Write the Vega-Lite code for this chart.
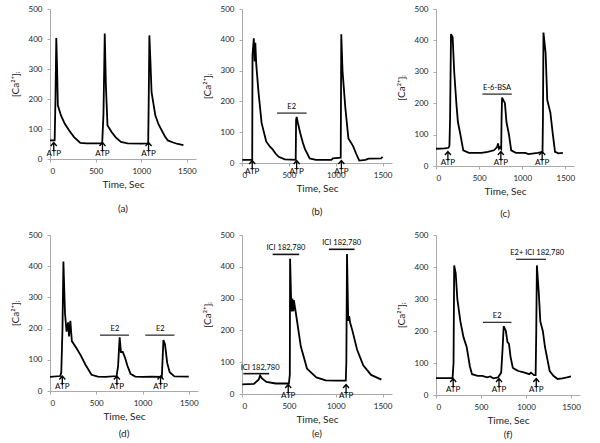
{
"$schema": "https://vega.github.io/schema/vega-lite/v6.json",
"padding": {"left": 10, "top": 5, "right": 0, "bottom": 0},
"datasets": {
"trace": [
{"p":"a","t":0,"v":62},{"p":"a","t":51,"v":62},{"p":"a","t":60,"v":200},{"p":"a","t":69,"v":403},{"p":"a","t":78,"v":300},{"p":"a","t":86,"v":179},{"p":"a","t":120,"v":145},{"p":"a","t":161,"v":118},{"p":"a","t":210,"v":95},{"p":"a","t":264,"v":73},{"p":"a","t":332,"v":54},{"p":"a","t":400,"v":52},{"p":"a","t":500,"v":52},{"p":"a","t":572,"v":52},{"p":"a","t":586,"v":150},{"p":"a","t":600,"v":418},{"p":"a","t":612,"v":250},{"p":"a","t":630,"v":112},{"p":"a","t":675,"v":90},{"p":"a","t":720,"v":72},{"p":"a","t":778,"v":57},{"p":"a","t":850,"v":52},{"p":"a","t":1000,"v":51},{"p":"a","t":1076,"v":52},{"p":"a","t":1082,"v":200},{"p":"a","t":1089,"v":412},{"p":"a","t":1100,"v":330},{"p":"a","t":1113,"v":223},{"p":"a","t":1154,"v":146},{"p":"a","t":1190,"v":115},{"p":"a","t":1223,"v":96},{"p":"a","t":1260,"v":75},{"p":"a","t":1291,"v":62},{"p":"a","t":1350,"v":55},{"p":"a","t":1400,"v":50},{"p":"a","t":1462,"v":46},
{"p":"b","t":3,"v":10},{"p":"b","t":109,"v":10},{"p":"b","t":112,"v":350},{"p":"b","t":126,"v":405},{"p":"b","t":135,"v":330},{"p":"b","t":142,"v":390},{"p":"b","t":152,"v":320},{"p":"b","t":176,"v":230},{"p":"b","t":209,"v":130},{"p":"b","t":258,"v":70},{"p":"b","t":300,"v":52},{"p":"b","t":325,"v":45},{"p":"b","t":360,"v":30},{"p":"b","t":391,"v":20},{"p":"b","t":457,"v":12},{"p":"b","t":573,"v":10},{"p":"b","t":577,"v":140},{"p":"b","t":583,"v":150},{"p":"b","t":596,"v":130},{"p":"b","t":623,"v":95},{"p":"b","t":650,"v":65},{"p":"b","t":672,"v":45},{"p":"b","t":722,"v":15},{"p":"b","t":788,"v":10},{"p":"b","t":953,"v":10},{"p":"b","t":970,"v":15},{"p":"b","t":1053,"v":17},{"p":"b","t":1059,"v":418},{"p":"b","t":1072,"v":300},{"p":"b","t":1102,"v":180},{"p":"b","t":1135,"v":80},{"p":"b","t":1185,"v":55},{"p":"b","t":1218,"v":30},{"p":"b","t":1251,"v":8},{"p":"b","t":1317,"v":10},{"p":"b","t":1350,"v":14},{"p":"b","t":1483,"v":15},{"p":"b","t":1500,"v":20},
{"p":"c","t":0,"v":55},{"p":"c","t":100,"v":56},{"p":"c","t":145,"v":58},{"p":"c","t":156,"v":65},{"p":"c","t":163,"v":150},{"p":"c","t":174,"v":420},{"p":"c","t":193,"v":410},{"p":"c","t":211,"v":300},{"p":"c","t":236,"v":200},{"p":"c","t":254,"v":140},{"p":"c","t":283,"v":100},{"p":"c","t":316,"v":50},{"p":"c","t":381,"v":42},{"p":"c","t":527,"v":42},{"p":"c","t":600,"v":45},{"p":"c","t":672,"v":50},{"p":"c","t":708,"v":60},{"p":"c","t":719,"v":72},{"p":"c","t":730,"v":55},{"p":"c","t":745,"v":60},{"p":"c","t":756,"v":55},{"p":"c","t":760,"v":150},{"p":"c","t":766,"v":218},{"p":"c","t":781,"v":210},{"p":"c","t":799,"v":200},{"p":"c","t":817,"v":140},{"p":"c","t":846,"v":100},{"p":"c","t":872,"v":50},{"p":"c","t":926,"v":42},{"p":"c","t":1035,"v":42},{"p":"c","t":1072,"v":38},{"p":"c","t":1181,"v":42},{"p":"c","t":1235,"v":45},{"p":"c","t":1240,"v":150},{"p":"c","t":1246,"v":425},{"p":"c","t":1271,"v":360},{"p":"c","t":1290,"v":210},{"p":"c","t":1326,"v":170},{"p":"c","t":1355,"v":100},{"p":"c","t":1380,"v":45},{"p":"c","t":1420,"v":40},{"p":"c","t":1471,"v":42},
{"p":"d","t":0,"v":45},{"p":"d","t":111,"v":48},{"p":"d","t":122,"v":60},{"p":"d","t":135,"v":200},{"p":"d","t":145,"v":415},{"p":"d","t":162,"v":250},{"p":"d","t":179,"v":190},{"p":"d","t":196,"v":220},{"p":"d","t":206,"v":175},{"p":"d","t":220,"v":225},{"p":"d","t":236,"v":160},{"p":"d","t":280,"v":140},{"p":"d","t":331,"v":115},{"p":"d","t":382,"v":85},{"p":"d","t":449,"v":52},{"p":"d","t":517,"v":46},{"p":"d","t":600,"v":45},{"p":"d","t":720,"v":48},{"p":"d","t":736,"v":80},{"p":"d","t":753,"v":172},{"p":"d","t":767,"v":125},{"p":"d","t":787,"v":125},{"p":"d","t":813,"v":105},{"p":"d","t":838,"v":80},{"p":"d","t":871,"v":55},{"p":"d","t":922,"v":46},{"p":"d","t":1000,"v":45},{"p":"d","t":1100,"v":46},{"p":"d","t":1209,"v":45},{"p":"d","t":1226,"v":163},{"p":"d","t":1243,"v":150},{"p":"d","t":1267,"v":90},{"p":"d","t":1294,"v":60},{"p":"d","t":1345,"v":47},{"p":"d","t":1500,"v":46},
{"p":"e","t":3,"v":30},{"p":"e","t":127,"v":32},{"p":"e","t":177,"v":45},{"p":"e","t":193,"v":58},{"p":"e","t":210,"v":50},{"p":"e","t":260,"v":38},{"p":"e","t":360,"v":33},{"p":"e","t":500,"v":33},{"p":"e","t":510,"v":60},{"p":"e","t":513,"v":425},{"p":"e","t":527,"v":260},{"p":"e","t":537,"v":300},{"p":"e","t":547,"v":260},{"p":"e","t":553,"v":295},{"p":"e","t":577,"v":250},{"p":"e","t":627,"v":150},{"p":"e","t":693,"v":80},{"p":"e","t":793,"v":52},{"p":"e","t":893,"v":43},{"p":"e","t":1000,"v":42},{"p":"e","t":1107,"v":42},{"p":"e","t":1113,"v":100},{"p":"e","t":1120,"v":440},{"p":"e","t":1133,"v":230},{"p":"e","t":1143,"v":245},{"p":"e","t":1153,"v":225},{"p":"e","t":1177,"v":200},{"p":"e","t":1227,"v":140},{"p":"e","t":1293,"v":90},{"p":"e","t":1377,"v":60},{"p":"e","t":1487,"v":45},
{"p":"f","t":0,"v":53},{"p":"f","t":184,"v":53},{"p":"f","t":195,"v":100},{"p":"f","t":202,"v":405},{"p":"f","t":219,"v":380},{"p":"f","t":237,"v":300},{"p":"f","t":271,"v":230},{"p":"f","t":306,"v":180},{"p":"f","t":341,"v":150},{"p":"f","t":376,"v":90},{"p":"f","t":400,"v":65},{"p":"f","t":463,"v":60},{"p":"f","t":515,"v":60},{"p":"f","t":567,"v":55},{"p":"f","t":602,"v":58},{"p":"f","t":637,"v":52},{"p":"f","t":689,"v":55},{"p":"f","t":724,"v":70},{"p":"f","t":741,"v":150},{"p":"f","t":752,"v":215},{"p":"f","t":776,"v":200},{"p":"f","t":794,"v":165},{"p":"f","t":811,"v":160},{"p":"f","t":828,"v":120},{"p":"f","t":853,"v":85},{"p":"f","t":881,"v":80},{"p":"f","t":915,"v":75},{"p":"f","t":985,"v":70},{"p":"f","t":1037,"v":65},{"p":"f","t":1055,"v":70},{"p":"f","t":1089,"v":62},{"p":"f","t":1107,"v":62},{"p":"f","t":1114,"v":200},{"p":"f","t":1121,"v":405},{"p":"f","t":1142,"v":320},{"p":"f","t":1159,"v":230},{"p":"f","t":1187,"v":200},{"p":"f","t":1211,"v":150},{"p":"f","t":1239,"v":110},{"p":"f","t":1263,"v":75},{"p":"f","t":1305,"v":60},{"p":"f","t":1350,"v":50},{"p":"f","t":1403,"v":52},{"p":"f","t":1455,"v":55},{"p":"f","t":1500,"v":58}
],
"bars": [
{"p":"b","t1":374,"t2":689,"v":162,"tm":530,"lab":"E2"},
{"p":"c","t1":538,"t2":879,"v":229,"tm":708,"lab":"E-6-BSA"},
{"p":"d","t1":540,"t2":854,"v":179,"tm":702,"lab":"E2"},
{"p":"d","t1":1030,"t2":1345,"v":179,"tm":1193,"lab":"E2"},
{"p":"e","t1":15,"t2":290,"v":64,"tm":193,"lab":"ICI 182,780"},
{"p":"e","t1":327,"t2":610,"v":439,"tm":468,"lab":"ICI 182,780"},
{"p":"e","t1":927,"t2":1200,"v":455,"tm":1063,"lab":"ICI 182,780"},
{"p":"f","t1":522,"t2":839,"v":227,"tm":680,"lab":"E2"},
{"p":"f","t1":891,"t2":1222,"v":424,"tm":1124,"lab":"E2+ ICI 182,780"}
],
"atp": [
{"p":"a","t":41},{"p":"a","t":575},{"p":"a","t":1080},
{"p":"b","t":109},{"p":"b","t":583},{"p":"b","t":1060},
{"p":"c","t":138},{"p":"c","t":752},{"p":"c","t":1231},
{"p":"d","t":133},{"p":"d","t":723},{"p":"d","t":1195},
{"p":"e","t":493},{"p":"e","t":1110},
{"p":"f","t":191},{"p":"f","t":700},{"p":"f","t":1114}
]
},
"bounds": "flush",
"columns": 3,
"spacing": {"row": 69, "column": 44},
"concat": [
{"width": 146, "height": 150, "title": {"text": "(a)", "offset": 15},
 "layer": [
 {"data": {"name": "trace"}, "transform": [{"filter": "datum.p == 'a'"}], "mark": {"type": "line", "color": "black", "strokeWidth": 1.8},
  "encoding": {"x": {"field": "t", "type": "quantitative", "scale": {"domain": [0, 1500]}, "axis": {"values": [0, 500, 1000, 1500], "format": "d", "title": "Time, Sec"}},
   "y": {"field": "v", "type": "quantitative", "scale": {"domain": [0, 500]}, "axis": {"values": [0, 100, 200, 300, 400, 500], "title": "[Ca²⁺]ᵢ"}}}},
 {"data": {"name": "atp"}, "transform": [{"filter": "datum.p == 'a'"}], "mark": {"type": "point", "shape": "M-0.6,-0.2L0,-0.9L0.6,-0.2M0,-0.9L0,0.9", "size": 100, "filled": false, "stroke": "black", "strokeWidth": 1.3, "opacity": 1, "yOffset": -12},
  "encoding": {"x": {"field": "t", "type": "quantitative", "axis": {"values": [0, 500, 1000, 1500], "format": "d", "title": "Time, Sec"}}, "y": {"datum": 0, "axis": {"values": [0, 100, 200, 300, 400, 500], "title": "[Ca²⁺]ᵢ"}}}},
 {"data": {"name": "atp"}, "transform": [{"filter": "datum.p == 'a'"}], "mark": {"type": "text", "text": "ATP", "fontSize": 8, "baseline": "middle", "dy": -5},
  "encoding": {"x": {"field": "t", "type": "quantitative", "axis": {"values": [0, 500, 1000, 1500], "format": "d", "title": "Time, Sec"}}, "y": {"datum": 0, "axis": {"values": [0, 100, 200, 300, 400, 500], "title": "[Ca²⁺]ᵢ"}}}}
 ]},
{"width": 150, "height": 154, "title": {"text": "(b)", "offset": 14},
 "layer": [
 {"data": {"name": "trace"}, "transform": [{"filter": "datum.p == 'b'"}], "mark": {"type": "line", "color": "black", "strokeWidth": 1.8},
  "encoding": {"x": {"field": "t", "type": "quantitative", "scale": {"domain": [0, 1500]}, "axis": {"values": [0, 500, 1000, 1500], "format": "d", "title": "Time, Sec"}},
   "y": {"field": "v", "type": "quantitative", "scale": {"domain": [0, 500]}, "axis": {"values": [0, 100, 200, 300, 400, 500], "title": "[Ca²⁺]ᵢ"}}}},
 {"data": {"name": "bars"}, "transform": [{"filter": "datum.p == 'b'"}], "mark": {"type": "rule", "color": "#333", "strokeWidth": 1.3},
  "encoding": {"x": {"field": "t1", "type": "quantitative", "axis": {"values": [0, 500, 1000, 1500], "format": "d", "title": "Time, Sec"}}, "x2": {"field": "t2"}, "y": {"field": "v", "type": "quantitative", "axis": {"values": [0, 100, 200, 300, 400, 500], "title": "[Ca²⁺]ᵢ"}}}},
 {"data": {"name": "bars"}, "transform": [{"filter": "datum.p == 'b'"}], "mark": {"type": "text", "fontSize": 7.5, "baseline": "bottom", "dy": -2},
  "encoding": {"x": {"field": "tm", "type": "quantitative", "axis": {"values": [0, 500, 1000, 1500], "format": "d", "title": "Time, Sec"}}, "y": {"field": "v", "type": "quantitative", "axis": {"values": [0, 100, 200, 300, 400, 500], "title": "[Ca²⁺]ᵢ"}}, "text": {"field": "lab"}}},
 {"data": {"name": "atp"}, "transform": [{"filter": "datum.p == 'b'"}], "mark": {"type": "point", "shape": "M-0.6,-0.2L0,-0.9L0.6,-0.2M0,-0.9L0,0.9", "size": 100, "filled": false, "stroke": "black", "strokeWidth": 1.3, "opacity": 1, "yOffset": 2},
  "encoding": {"x": {"field": "t", "type": "quantitative", "axis": {"values": [0, 500, 1000, 1500], "format": "d", "title": "Time, Sec"}}, "y": {"datum": 0, "axis": {"values": [0, 100, 200, 300, 400, 500], "title": "[Ca²⁺]ᵢ"}}}},
 {"data": {"name": "atp"}, "transform": [{"filter": "datum.p == 'b'"}], "mark": {"type": "text", "text": "ATP", "fontSize": 8, "baseline": "middle", "dy": 9},
  "encoding": {"x": {"field": "t", "type": "quantitative", "axis": {"values": [0, 500, 1000, 1500], "format": "d", "title": "Time, Sec"}}, "y": {"datum": 0, "axis": {"values": [0, 100, 200, 300, 400, 500], "title": "[Ca²⁺]ᵢ"}}}}
 ]},
{"width": 138, "height": 157, "title": {"text": "(c)", "offset": 13},
 "layer": [
 {"data": {"name": "trace"}, "transform": [{"filter": "datum.p == 'c'"}], "mark": {"type": "line", "color": "black", "strokeWidth": 1.8},
  "encoding": {"x": {"field": "t", "type": "quantitative", "scale": {"domain": [0, 1500]}, "axis": {"values": [0, 500, 1000, 1500], "format": "d", "title": "Time, Sec"}},
   "y": {"field": "v", "type": "quantitative", "scale": {"domain": [0, 500]}, "axis": {"values": [0, 100, 200, 300, 400, 500], "title": "[Ca²⁺]ᵢ"}}}},
 {"data": {"name": "bars"}, "transform": [{"filter": "datum.p == 'c'"}], "mark": {"type": "rule", "color": "#333", "strokeWidth": 1.3},
  "encoding": {"x": {"field": "t1", "type": "quantitative", "axis": {"values": [0, 500, 1000, 1500], "format": "d", "title": "Time, Sec"}}, "x2": {"field": "t2"}, "y": {"field": "v", "type": "quantitative", "axis": {"values": [0, 100, 200, 300, 400, 500], "title": "[Ca²⁺]ᵢ"}}}},
 {"data": {"name": "bars"}, "transform": [{"filter": "datum.p == 'c'"}], "mark": {"type": "text", "fontSize": 7.5, "baseline": "bottom", "dy": -2},
  "encoding": {"x": {"field": "tm", "type": "quantitative", "axis": {"values": [0, 500, 1000, 1500], "format": "d", "title": "Time, Sec"}}, "y": {"field": "v", "type": "quantitative", "axis": {"values": [0, 100, 200, 300, 400, 500], "title": "[Ca²⁺]ᵢ"}}, "text": {"field": "lab"}}},
 {"data": {"name": "atp"}, "transform": [{"filter": "datum.p == 'c'"}], "mark": {"type": "point", "shape": "M-0.6,-0.2L0,-0.9L0.6,-0.2M0,-0.9L0,0.9", "size": 100, "filled": false, "stroke": "black", "strokeWidth": 1.3, "opacity": 1, "yOffset": -10},
  "encoding": {"x": {"field": "t", "type": "quantitative", "axis": {"values": [0, 500, 1000, 1500], "format": "d", "title": "Time, Sec"}}, "y": {"datum": 0, "axis": {"values": [0, 100, 200, 300, 400, 500], "title": "[Ca²⁺]ᵢ"}}}},
 {"data": {"name": "atp"}, "transform": [{"filter": "datum.p == 'c'"}], "mark": {"type": "text", "text": "ATP", "fontSize": 8, "baseline": "middle", "dy": -3},
  "encoding": {"x": {"field": "t", "type": "quantitative", "axis": {"values": [0, 500, 1000, 1500], "format": "d", "title": "Time, Sec"}}, "y": {"datum": 0, "axis": {"values": [0, 100, 200, 300, 400, 500], "title": "[Ca²⁺]ᵢ"}}}}
 ]},
{"width": 148, "height": 156, "title": {"text": "(d)", "offset": 8},
 "layer": [
 {"data": {"name": "trace"}, "transform": [{"filter": "datum.p == 'd'"}], "mark": {"type": "line", "color": "black", "strokeWidth": 1.8},
  "encoding": {"x": {"field": "t", "type": "quantitative", "scale": {"domain": [0, 1500]}, "axis": {"values": [0, 500, 1000, 1500], "format": "d", "title": "Time, Sec"}},
   "y": {"field": "v", "type": "quantitative", "scale": {"domain": [0, 500]}, "axis": {"values": [0, 100, 200, 300, 400, 500], "title": "[Ca²⁺]ᵢ"}}}},
 {"data": {"name": "bars"}, "transform": [{"filter": "datum.p == 'd'"}], "mark": {"type": "rule", "color": "#333", "strokeWidth": 1.3},
  "encoding": {"x": {"field": "t1", "type": "quantitative", "axis": {"values": [0, 500, 1000, 1500], "format": "d", "title": "Time, Sec"}}, "x2": {"field": "t2"}, "y": {"field": "v", "type": "quantitative", "axis": {"values": [0, 100, 200, 300, 400, 500], "title": "[Ca²⁺]ᵢ"}}}},
 {"data": {"name": "bars"}, "transform": [{"filter": "datum.p == 'd'"}], "mark": {"type": "text", "fontSize": 7.5, "baseline": "bottom", "dy": -2},
  "encoding": {"x": {"field": "tm", "type": "quantitative", "axis": {"values": [0, 500, 1000, 1500], "format": "d", "title": "Time, Sec"}}, "y": {"field": "v", "type": "quantitative", "axis": {"values": [0, 100, 200, 300, 400, 500], "title": "[Ca²⁺]ᵢ"}}, "text": {"field": "lab"}}},
 {"data": {"name": "atp"}, "transform": [{"filter": "datum.p == 'd'"}], "mark": {"type": "point", "shape": "M-0.6,-0.2L0,-0.9L0.6,-0.2M0,-0.9L0,0.9", "size": 100, "filled": false, "stroke": "black", "strokeWidth": 1.3, "opacity": 1, "yOffset": -10.5},
  "encoding": {"x": {"field": "t", "type": "quantitative", "axis": {"values": [0, 500, 1000, 1500], "format": "d", "title": "Time, Sec"}}, "y": {"datum": 0, "axis": {"values": [0, 100, 200, 300, 400, 500], "title": "[Ca²⁺]ᵢ"}}}},
 {"data": {"name": "atp"}, "transform": [{"filter": "datum.p == 'd'"}], "mark": {"type": "text", "text": "ATP", "fontSize": 8, "baseline": "middle", "dy": -4},
  "encoding": {"x": {"field": "t", "type": "quantitative", "axis": {"values": [0, 500, 1000, 1500], "format": "d", "title": "Time, Sec"}}, "y": {"datum": 0, "axis": {"values": [0, 100, 200, 300, 400, 500], "title": "[Ca²⁺]ᵢ"}}}}
 ]},
{"width": 150, "height": 159, "title": {"text": "(e)", "offset": 5},
 "layer": [
 {"data": {"name": "trace"}, "transform": [{"filter": "datum.p == 'e'"}], "mark": {"type": "line", "color": "black", "strokeWidth": 1.8},
  "encoding": {"x": {"field": "t", "type": "quantitative", "scale": {"domain": [0, 1500]}, "axis": {"values": [0, 500, 1000, 1500], "format": "d", "title": "Time, Sec"}},
   "y": {"field": "v", "type": "quantitative", "scale": {"domain": [0, 500]}, "axis": {"values": [0, 100, 200, 300, 400, 500], "title": "[Ca²⁺]ᵢ"}}}},
 {"data": {"name": "bars"}, "transform": [{"filter": "datum.p == 'e'"}], "mark": {"type": "rule", "color": "#111", "strokeWidth": 1.6},
  "encoding": {"x": {"field": "t1", "type": "quantitative", "axis": {"values": [0, 500, 1000, 1500], "format": "d", "title": "Time, Sec"}}, "x2": {"field": "t2"}, "y": {"field": "v", "type": "quantitative", "axis": {"values": [0, 100, 200, 300, 400, 500], "title": "[Ca²⁺]ᵢ"}}}},
 {"data": {"name": "bars"}, "transform": [{"filter": "datum.p == 'e'"}], "mark": {"type": "text", "fontSize": 7.5, "baseline": "bottom", "dy": -2},
  "encoding": {"x": {"field": "tm", "type": "quantitative", "axis": {"values": [0, 500, 1000, 1500], "format": "d", "title": "Time, Sec"}}, "y": {"field": "v", "type": "quantitative", "axis": {"values": [0, 100, 200, 300, 400, 500], "title": "[Ca²⁺]ᵢ"}}, "text": {"field": "lab"}}},
 {"data": {"name": "atp"}, "transform": [{"filter": "datum.p == 'e'"}], "mark": {"type": "point", "shape": "M-0.6,-0.2L0,-0.9L0.6,-0.2M0,-0.9L0,0.9", "size": 100, "filled": false, "stroke": "black", "strokeWidth": 1.3, "opacity": 1, "yOffset": -5},
  "encoding": {"x": {"field": "t", "type": "quantitative", "axis": {"values": [0, 500, 1000, 1500], "format": "d", "title": "Time, Sec"}}, "y": {"datum": 0, "axis": {"values": [0, 100, 200, 300, 400, 500], "title": "[Ca²⁺]ᵢ"}}}},
 {"data": {"name": "atp"}, "transform": [{"filter": "datum.p == 'e'"}], "mark": {"type": "text", "text": "ATP", "fontSize": 8, "baseline": "middle", "dy": 2},
  "encoding": {"x": {"field": "t", "type": "quantitative", "axis": {"values": [0, 500, 1000, 1500], "format": "d", "title": "Time, Sec"}}, "y": {"datum": 0, "axis": {"values": [0, 100, 200, 300, 400, 500], "title": "[Ca²⁺]ᵢ"}}}}
 ]},
{"width": 144, "height": 160, "title": {"text": "(f)", "offset": 5},
 "layer": [
 {"data": {"name": "trace"}, "transform": [{"filter": "datum.p == 'f'"}], "mark": {"type": "line", "color": "black", "strokeWidth": 1.8},
  "encoding": {"x": {"field": "t", "type": "quantitative", "scale": {"domain": [0, 1500]}, "axis": {"values": [0, 500, 1000, 1500], "format": "d", "title": "Time, Sec"}},
   "y": {"field": "v", "type": "quantitative", "scale": {"domain": [0, 500]}, "axis": {"values": [0, 100, 200, 300, 400, 500], "title": "[Ca²⁺]ᵢ"}}}},
 {"data": {"name": "bars"}, "transform": [{"filter": "datum.p == 'f'"}], "mark": {"type": "rule", "color": "#333", "strokeWidth": 1.3},
  "encoding": {"x": {"field": "t1", "type": "quantitative", "axis": {"values": [0, 500, 1000, 1500], "format": "d", "title": "Time, Sec"}}, "x2": {"field": "t2"}, "y": {"field": "v", "type": "quantitative", "axis": {"values": [0, 100, 200, 300, 400, 500], "title": "[Ca²⁺]ᵢ"}}}},
 {"data": {"name": "bars"}, "transform": [{"filter": "datum.p == 'f'"}], "mark": {"type": "text", "fontSize": 7.5, "baseline": "bottom", "dy": -2},
  "encoding": {"x": {"field": "tm", "type": "quantitative", "axis": {"values": [0, 500, 1000, 1500], "format": "d", "title": "Time, Sec"}}, "y": {"field": "v", "type": "quantitative", "axis": {"values": [0, 100, 200, 300, 400, 500], "title": "[Ca²⁺]ᵢ"}}, "text": {"field": "lab"}}},
 {"data": {"name": "atp"}, "transform": [{"filter": "datum.p == 'f'"}], "mark": {"type": "point", "shape": "M-0.6,-0.2L0,-0.9L0.6,-0.2M0,-0.9L0,0.9", "size": 100, "filled": false, "stroke": "black", "strokeWidth": 1.3, "opacity": 1, "yOffset": -12},
  "encoding": {"x": {"field": "t", "type": "quantitative", "axis": {"values": [0, 500, 1000, 1500], "format": "d", "title": "Time, Sec"}}, "y": {"datum": 0, "axis": {"values": [0, 100, 200, 300, 400, 500], "title": "[Ca²⁺]ᵢ"}}}},
 {"data": {"name": "atp"}, "transform": [{"filter": "datum.p == 'f'"}], "mark": {"type": "text", "text": "ATP", "fontSize": 8, "baseline": "middle", "dy": -5.5},
  "encoding": {"x": {"field": "t", "type": "quantitative", "axis": {"values": [0, 500, 1000, 1500], "format": "d", "title": "Time, Sec"}}, "y": {"datum": 0, "axis": {"values": [0, 100, 200, 300, 400, 500], "title": "[Ca²⁺]ᵢ"}}}}
 ]}
],
"config": {
 "font": "Lato",
 "view": {"stroke": null},
 "title": {"orient": "bottom", "fontSize": 10, "fontWeight": "normal", "offset": 15, "color": "#222"},
 "axis": {"grid": false, "domainColor": "#aaa", "tickColor": "#aaa", "tickSize": 3, "labelFontSize": 8, "labelColor": "#222", "titleFontSize": 10, "titleFontWeight": "normal", "titleColor": "#222", "labelPadding": 5, "titlePadding": 4, "labelOverlap": false},
 "axisY": {"labelPadding": 5, "titlePadding": 8}
}
}
